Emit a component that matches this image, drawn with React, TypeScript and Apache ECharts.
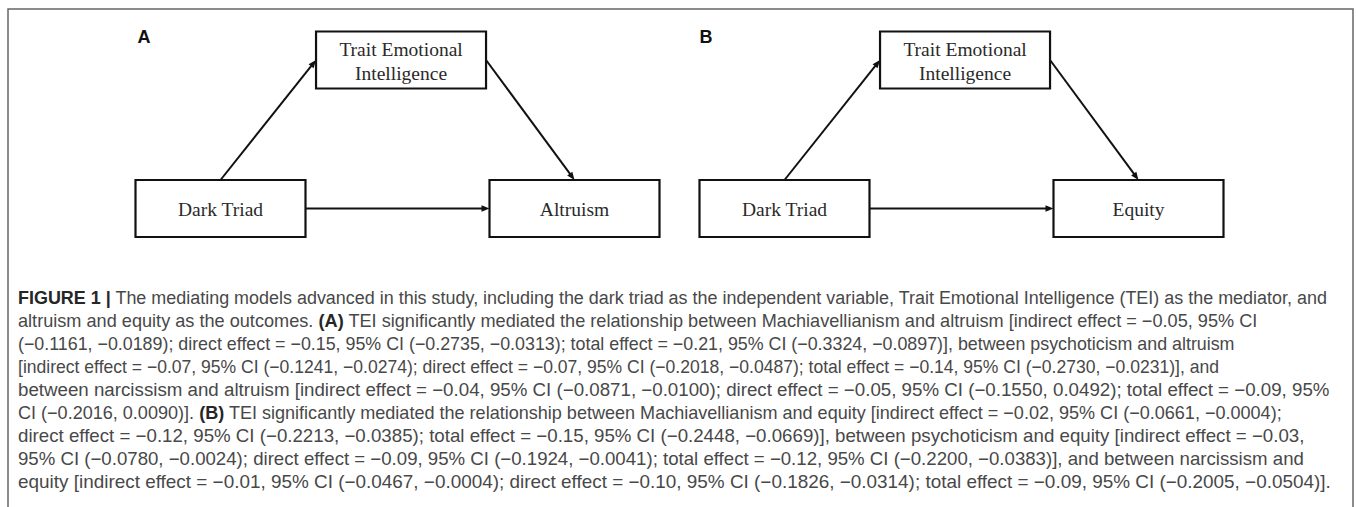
import React, { useEffect, useRef } from "react";
import * as echarts from "echarts";

// ---- Diagram data ----
const panelLabels = ["A", "B"];
const predictorName = "Dark Triad";
const mediatorName = "Trait Emotional\nIntelligence";
const outcomeNames = ["Altruism", "Equity"];
// node placement in the diagram's own units (column, row)
const nodeCols = [0, 1.02, 2];
const nodeRows = [0, 1, 0];
// paths: from node, to node, leaving side, arriving side
const edgeFrom = [0, 1, 0];
const edgeTo = [1, 2, 2];
const edgeFromSide = ["top", "right", "right"];
const edgeToSide = ["left", "top", "left"];

// ---- Caption ----
const captionLines = [
  "{b|FIGURE 1 |} The mediating models advanced in this study, including the dark triad as the independent variable, Trait Emotional Intelligence (TEI) as the mediator, and",
  "altruism and equity as the outcomes. {b|(A)} TEI significantly mediated the relationship between Machiavellianism and altruism [indirect effect = \u22120.05, 95% CI",
  "(\u22120.1161, \u22120.0189); direct effect = \u22120.15, 95% CI (\u22120.2735, \u22120.0313); total effect = \u22120.21, 95% CI (\u22120.3324, \u22120.0897)], between psychoticism and altruism",
  "[indirect effect = \u22120.07, 95% CI (\u22120.1241, \u22120.0274); direct effect = \u22120.07, 95% CI (\u22120.2018, \u22120.0487); total effect = \u22120.14, 95% CI (\u22120.2730, \u22120.0231)], and",
  "between narcissism and altruism [indirect effect = \u22120.04, 95% CI (\u22120.0871, \u22120.0100); direct effect = \u22120.05, 95% CI (\u22120.1550, 0.0492); total effect = \u22120.09, 95%",
  "CI (\u22120.2016, 0.0090)]. {b|(B)} TEI significantly mediated the relationship between Machiavellianism and equity [indirect effect = \u22120.02, 95% CI (\u22120.0661, \u22120.0004);",
  "direct effect = \u22120.12, 95% CI (\u22120.2213, \u22120.0385); total effect = \u22120.15, 95% CI (\u22120.2448, \u22120.0669)], between psychoticism and equity [indirect effect = \u22120.03,",
  "95% CI (\u22120.0780, \u22120.0024); direct effect = \u22120.09, 95% CI (\u22120.1924, \u22120.0041); total effect = \u22120.12, 95% CI (\u22120.2200, \u22120.0383)], and between narcissism and",
  "equity [indirect effect = \u22120.01, 95% CI (\u22120.0467, \u22120.0004); direct effect = \u22120.10, 95% CI (\u22120.1826, \u22120.0314); total effect = \u22120.09, 95% CI (\u22120.2005, \u22120.0504)].",
];
// layout: where each caption line ends on the page (ragged right)
const captionLineEnds = [1328, 1258, 1236, 1220, 1330, 1283, 1305, 1305, 1332];

const BOX_W = 170;
const BOX_H = 57;
const SERIF = "'Liberation Serif', 'Times New Roman', serif";
const SANS_NAME = "Liberation Sans";
const SANS = "'Liberation Sans', Arial, Helvetica, sans-serif";
const CAP_SIZE = 18;
const CAP_X = 18;
const CAP_Y0 = 298;
const CAP_STEP = 23;
const CAP_COLOR = "#484848";

function sideOffset(side: string): number[] {
  if (side === "top") return [0, -BOX_H / 2];
  if (side === "bottom") return [0, BOX_H / 2];
  if (side === "left") return [-BOX_W / 2, 0];
  return [BOX_W / 2, 0];
}

let measureCtx: CanvasRenderingContext2D | null = null;
function measureLine(line: string): number {
  if (!measureCtx) {
    const c = document.createElement("canvas");
    measureCtx = c.getContext("2d");
  }
  const ctx = measureCtx!;
  let total = 0;
  const re = /\{b\|([^}]*)\}/g;
  let last = 0;
  let m: RegExpExecArray | null;
  while ((m = re.exec(line)) !== null) {
    const plain = line.slice(last, m.index);
    ctx.font = `${CAP_SIZE}px "${SANS_NAME}"`;
    total += ctx.measureText(plain).width;
    ctx.font = `bold ${CAP_SIZE}px "${SANS_NAME}"`;
    total += ctx.measureText(m[1]).width;
    last = m.index + m[0].length;
  }
  ctx.font = `${CAP_SIZE}px "${SANS_NAME}"`;
  total += ctx.measureText(line.slice(last)).width;
  return total;
}

function nodeSeries(panel: number) {
  const names = [predictorName, mediatorName, outcomeNames[panel]];
  return {
    type: "custom",
    xAxisIndex: panel,
    yAxisIndex: panel,
    clip: false,
    z: 3,
    data: nodeCols.map((c, i) => [c, nodeRows[i], i]),
    renderItem: (params: any, api: any) => {
      const p = api.coord([api.value(0), api.value(1)]);
      const idx = api.value(2);
      return {
        type: "group",
        children: [
          {
            type: "rect",
            shape: { x: p[0] - BOX_W / 2, y: p[1] - BOX_H / 2, width: BOX_W, height: BOX_H },
            style: { fill: "#ffffff", stroke: "#111111", lineWidth: 2.2 },
          },
          {
            type: "text",
            x: p[0],
            y: p[1] + 1,
            style: {
              text: names[idx],
              align: "center",
              verticalAlign: "middle",
              fontFamily: SERIF,
              fontSize: 19.5,
              lineHeight: 24,
              fill: "#2a2a2a",
            },
          },
        ],
      };
    },
  };
}

function edgeSeries(panel: number) {
  return {
    type: "custom",
    xAxisIndex: panel,
    yAxisIndex: panel,
    clip: false,
    z: 2,
    encode: { x: [0, 2], y: [1, 3] },
    data: edgeFrom.map((f, i) => [nodeCols[f], nodeRows[f], nodeCols[edgeTo[i]], nodeRows[edgeTo[i]]]),
    renderItem: (params: any, api: any) => {
      const i = params.dataIndex;
      const a = api.coord([api.value(0), api.value(1)]);
      const b = api.coord([api.value(2), api.value(3)]);
      const oa = sideOffset(edgeFromSide[i]);
      const ob = sideOffset(edgeToSide[i]);
      const s = [a[0] + oa[0], a[1] + oa[1]];
      const e = [b[0] + ob[0], b[1] + ob[1]];
      const dx = e[0] - s[0];
      const dy = e[1] - s[1];
      const len = Math.sqrt(dx * dx + dy * dy);
      const ux = dx / len;
      const uy = dy / len;
      const L = 8;
      const W = 3.2;
      const base = [e[0] - ux * L, e[1] - uy * L];
      return {
        type: "group",
        children: [
          {
            type: "line",
            shape: { x1: s[0], y1: s[1], x2: base[0] + ux * 2, y2: base[1] + uy * 2 },
            style: { stroke: "#111111", lineWidth: 2 },
          },
          {
            type: "polygon",
            shape: {
              points: [
                [e[0], e[1]],
                [base[0] - uy * W, base[1] + ux * W],
                [base[0] + uy * W, base[1] - ux * W],
              ],
            },
            style: { fill: "#111111" },
          },
        ],
      };
    },
  };
}

export default function App() {
  const ref = useRef<HTMLDivElement>(null);
  useEffect(() => {
    if (!ref.current) return;
    const chart = echarts.init(ref.current, null, { renderer: "svg" });
    const grids = [0, 1].map((p) => ({
      left: 220.5 + p * 564,
      top: 60,
      width: 354,
      height: 148.5,
    }));
    const graphic: any[] = [
      {
        type: "rect",
        shape: { x: 8, y: 9, width: 1345, height: 520 },
        style: { fill: "none", stroke: "#666666", lineWidth: 1.5 },
        z: 0,
      },
    ];
    panelLabels.forEach((lab, p) => {
      graphic.push({
        type: "text",
        x: 144 + p * 562,
        y: 37,
        style: {
          text: lab,
          align: "center",
          verticalAlign: "middle",
          fontFamily: SANS,
          fontWeight: "bold",
          fontSize: 18,
          fill: "#111111",
        },
      });
    });
    captionLines.forEach((line, i) => {
      const w = measureLine(line);
      const target = captionLineEnds[i] - CAP_X;
      let sx = w > 0 ? target / w : 1;
      if (!isFinite(sx) || sx < 0.85 || sx > 1.15) sx = 1;
      graphic.push({
        type: "text",
        x: CAP_X,
        y: CAP_Y0 + i * CAP_STEP,
        scaleX: sx,
        style: {
          text: line,
          align: "left",
          verticalAlign: "middle",
          fontFamily: SANS,
          fontSize: CAP_SIZE,
          fill: CAP_COLOR,
          rich: {
            b: { fontFamily: SANS, fontSize: CAP_SIZE, fontWeight: "bold", fill: "#262626" },
          },
        },
      });
    });
    chart.setOption({
      animation: false,
      backgroundColor: "#ffffff",
      grid: grids,
      xAxis: [0, 1].map((p) => ({ type: "value", gridIndex: p, min: 0, max: 2, show: false })),
      yAxis: [0, 1].map((p) => ({ type: "value", gridIndex: p, min: 0, max: 1, show: false })),
      graphic,
      series: [edgeSeries(0), nodeSeries(0), edgeSeries(1), nodeSeries(1)],
    });
    return () => chart.dispose();
  }, []);
  return (
    <div
      ref={ref}
      style={{ position: "absolute", left: 0, top: 0, width: 1358, height: 507 }}
    />
  );
}
